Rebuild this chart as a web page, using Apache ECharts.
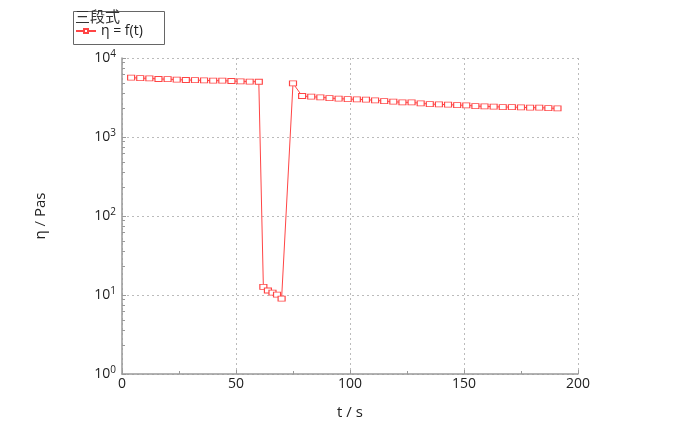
<!DOCTYPE html>
<html>
<head>
<meta charset="utf-8">
<script src="https://cdn.jsdelivr.net/npm/echarts@6/dist/echarts.min.js"></script>
<style>html,body{margin:0;padding:0;background:#fff}#c{width:676px;height:441px}</style>
</head>
<body>
<div id="c"></div>
<script>
// time (s)
var tValues = [4,8,12,16,20,24,28,32,36,40,44,48,52,56,60,
  62,64,66,68,70,
  75,79,83,87,91,95,99,103,107,111,115,119,123,127,131,135,139,143,147,151,155,159,163,167,171,175,179,183,187,191];
// viscosity (Pas)
var etaValues = [5650,5550,5530,5420,5400,5320,5260,5250,5210,5170,5160,5110,5070,5030,5000,
  12.7,11.4,10.7,10.1,9.0,
  4780,3300,3240,3180,3110,3060,3020,3000,2970,2910,2850,2800,2745,2745,2670,2610,2590,2567,2537,2515,2464,2443,2421,2393,2393,2372,2352,2352,2324,2303];
var xTicks = [0,50,100,150,200];
var yTicks = [1,10,100,1000,10000];
var legendTitle = '三段式';
var seriesName = 'η = f(t)';
var xName = 't / s';
var yName = 'η / Pas';

var pts = tValues.map(function(t,i){return [t, etaValues[i]];});
var font = '"Open Sans","Noto Sans",sans-serif';
var chart = echarts.init(document.getElementById('c'), null, {renderer:'canvas'});
chart.setOption({
  backgroundColor:'#fff',
  animation:false,
  grid:{left:122,right:98,top:58,bottom:67},
  graphic:[
    {type:'rect', left:71, top:9, shape:{width:91,height:33}, style:{fill:'none', stroke:'#666', lineWidth:1}},
    {type:'text', left:75, top:9, style:{text:legendTitle, font:'15px "Noto Sans CJK SC",sans-serif', fill:'#333'}}
  ],
  legend:{
    left:75, top:24, itemWidth:20, itemHeight:5, itemGap:4, padding:0,
    textStyle:{fontFamily:font, fontSize:14, color:'#222'},
    data:[{name:seriesName}]
  },
  xAxis:{
    type:'value', min:xTicks[0], max:xTicks[xTicks.length-1], interval:50,
    name:xName, nameLocation:'middle', nameGap:31,
    nameTextStyle:{fontFamily:font, fontSize:15, color:'#222'},
    axisLine:{lineStyle:{color:'#999', width:1.5}},
    axisTick:{inside:true, length:4, lineStyle:{color:'#999'}},
    minorTick:{show:true, splitNumber:2, length:3, lineStyle:{color:'#999'}},
    axisLabel:{fontFamily:font, fontSize:14, color:'#222', margin:3},
    splitLine:{show:true, lineStyle:{color:'#bbb', type:[2,3], width:1}}
  },
  yAxis:{
    type:'log', logBase:10, min:yTicks[0], max:yTicks[yTicks.length-1],
    name:yName, nameLocation:'middle', nameGap:74, nameRotate:90,
    nameTextStyle:{fontFamily:font, fontSize:15, color:'#222'},
    axisLine:{show:true, lineStyle:{color:'#999', width:1.5}},
    axisTick:{inside:true, length:4, lineStyle:{color:'#999'}},
    minorTick:{show:true, splitNumber:7, length:3, lineStyle:{color:'#999'}},
    axisLabel:{
      margin:6,
      formatter:function(v){return '{b|10}{s|'+Math.round(Math.log10(v))+'}';},
      rich:{
        b:{fontFamily:font, fontSize:14, color:'#222'},
        s:{fontFamily:font, fontSize:10, color:'#222', verticalAlign:'top', padding:[0,0,8,0]}
      }
    },
    splitLine:{show:true, lineStyle:{color:'#bbb', type:[2,3], width:1}}
  },
  series:[{
    name:seriesName, type:'line', data:pts,
    symbol:'rect', symbolSize:[7,5], showAllSymbol:true,
    lineStyle:{color:'#ff4545', width:1},
    itemStyle:{color:'#fff', borderColor:'#ff4545', borderWidth:1},
    emphasis:{disabled:true}
  }]
});
</script>
</body>
</html>
